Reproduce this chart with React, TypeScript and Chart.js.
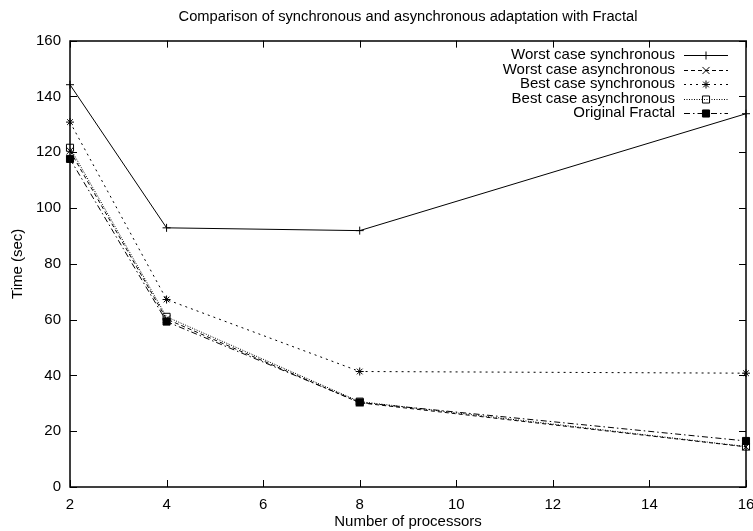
import React, { useEffect, useRef } from 'react';
import { Chart, registerables } from 'chart.js';

Chart.register(...registerables);

const processors = [2, 4, 8, 16];
const worstSync = [144.2, 92.9, 91.9, 133.8];
const worstAsync = [120.5, 60.2, 30.2, 14.4];
const bestSync = [130.8, 67.2, 41.4, 40.8];
const bestAsync = [121.6, 61.0, 30.6, 14.5];
const originalFractal = [117.6, 59.3, 30.3, 16.5];

const seriesLabels = [
  'Worst case synchronous',
  'Worst case asynchronous',
  'Best case synchronous',
  'Best case asynchronous',
  'Original Fractal',
];
const titleText = 'Comparison of synchronous and asynchronous adaptation with Fractal';
const xTitle = 'Number of processors';
const yTitle = 'Time (sec)';

const FONT = 'Liberation Sans, Arial, Helvetica, sans-serif';
const FS = 15;

type Style = { dash: number[]; point: string; radius: number; filled: boolean };
const styles: Style[] = [
  { dash: [], point: 'cross', radius: 4, filled: false },
  { dash: [4, 3], point: 'crossRot', radius: 5, filled: false },
  { dash: [2, 4], point: 'star', radius: 4, filled: false },
  { dash: [1, 1.5], point: 'rect', radius: 5, filled: false },
  { dash: [6, 3, 1.5, 3], point: 'rect', radius: 5, filled: true },
];

function drawMarker(ctx: CanvasRenderingContext2D, s: Style, x: number, y: number) {
  const r = s.radius;
  ctx.save();
  ctx.setLineDash([]);
  ctx.lineWidth = 1;
  ctx.strokeStyle = '#000';
  ctx.fillStyle = '#000';
  ctx.beginPath();
  if (s.point === 'cross') {
    ctx.moveTo(x - r, y); ctx.lineTo(x + r, y);
    ctx.moveTo(x, y - r); ctx.lineTo(x, y + r);
    ctx.stroke();
  } else if (s.point === 'crossRot') {
    const d = r * Math.SQRT1_2;
    ctx.moveTo(x - d, y - d); ctx.lineTo(x + d, y + d);
    ctx.moveTo(x - d, y + d); ctx.lineTo(x + d, y - d);
    ctx.stroke();
  } else if (s.point === 'star') {
    const d = r * Math.SQRT1_2;
    ctx.moveTo(x - r, y); ctx.lineTo(x + r, y);
    ctx.moveTo(x, y - r); ctx.lineTo(x, y + r);
    ctx.moveTo(x - d, y - d); ctx.lineTo(x + d, y + d);
    ctx.moveTo(x - d, y + d); ctx.lineTo(x + d, y - d);
    ctx.stroke();
  } else {
    const h = r * Math.SQRT1_2;
    ctx.rect(x - h, y - h, 2 * h, 2 * h);
    if (s.filled) ctx.fill();
    ctx.stroke();
  }
  ctx.restore();
}

const framePlugin = {
  id: 'gnuFrame',
  afterDraw(chart: any) {
    const { ctx, chartArea: a } = chart;
    const xs = chart.scales.x;
    const ys = chart.scales.y;
    const L = 7;
    ctx.save();
    ctx.strokeStyle = '#000';
    ctx.lineWidth = 1;
    ctx.setLineDash([]);
    ctx.beginPath();
    xs.ticks.forEach((t: any) => {
      const px = Math.round(xs.getPixelForValue(t.value)) + 0.5;
      ctx.moveTo(px, a.bottom); ctx.lineTo(px, a.bottom - L);
      ctx.moveTo(px, a.top); ctx.lineTo(px, a.top + L);
    });
    ys.ticks.forEach((t: any) => {
      const py = Math.round(ys.getPixelForValue(t.value)) + 0.5;
      ctx.moveTo(a.left, py); ctx.lineTo(a.left + L, py);
      ctx.moveTo(a.right, py); ctx.lineTo(a.right - L, py);
    });
    ctx.stroke();
    ctx.lineWidth = 1.5;
    ctx.strokeRect(Math.round(a.left), Math.round(a.top), Math.round(a.right - a.left), Math.round(a.bottom - a.top));

    // legend
    ctx.font = `${FS}px ${FONT}`;
    ctx.fillStyle = '#000';
    ctx.textAlign = 'right';
    ctx.textBaseline = 'middle';
    const sampleEnd = a.right - 18;
    const sampleStart = sampleEnd - 44;
    const textEnd = sampleStart - 9;
    chart.data.datasets.forEach((ds: any, i: number) => {
      const y = a.top + 14.5 + i * 14.5;
      const s = styles[i];
      ctx.fillText(ds.label, textEnd, y);
      ctx.save();
      ctx.lineWidth = 1;
      ctx.setLineDash(s.dash);
      ctx.beginPath();
      ctx.moveTo(sampleStart, Math.round(y) + 0.5);
      ctx.lineTo(sampleEnd, Math.round(y) + 0.5);
      ctx.stroke();
      ctx.restore();
      drawMarker(ctx, s, (sampleStart + sampleEnd) / 2, Math.round(y) + 0.5);
    });
    ctx.restore();
  },
};

const seriesValues = [worstSync, worstAsync, bestSync, bestAsync, originalFractal];

export default function App() {
  const ref = useRef<HTMLCanvasElement>(null);
  useEffect(() => {
    document.body.style.margin = '0';
    const canvas = ref.current!;
    const chart = new Chart(canvas, {
      type: 'line',
      data: {
        datasets: seriesValues.map((vals, i) => ({
          label: seriesLabels[i],
          data: processors.map((p, j) => ({ x: p, y: vals[j] })),
          borderColor: '#000',
          borderWidth: 1,
          borderDash: styles[i].dash,
          pointStyle: styles[i].point as any,
          pointRadius: styles[i].radius,
          pointBorderColor: '#000',
          pointBackgroundColor: styles[i].filled ? '#000' : 'rgba(0,0,0,0)',
          pointBorderWidth: 1,
          tension: 0,
          fill: false,
          clip: false as any,
        })),
      },
      options: {
        animation: false,
        responsive: false,
        devicePixelRatio: 1,
        layout: { padding: { left: 0, right: 7, top: 0, bottom: 0 } },
        plugins: {
          legend: { display: false },
          tooltip: { enabled: false },
          title: {
            display: true,
            fullSize: false,
            text: titleText,
            color: '#000',
            font: { family: FONT, size: 14.7, weight: 'normal', lineHeight: 1.2 },
            padding: { top: 8, bottom: 15 },
          },
        },
        scales: {
          x: {
            type: 'linear',
            min: 2,
            max: 16,
            grid: { display: false, drawTicks: false },
            border: { display: false },
            ticks: { stepSize: 2, color: '#000', font: { family: FONT, size: FS }, padding: 9, maxRotation: 0 },
            title: { display: true, text: xTitle, color: '#000', font: { family: FONT, size: FS }, padding: { top: 0, bottom: 0 } },
            afterFit: (s: any) => { s.height = 44; s.paddingRight = 0; s.paddingLeft = 0; },
          },
          y: {
            type: 'linear',
            min: 0,
            max: 160,
            grid: { display: false, drawTicks: false },
            border: { display: false },
            ticks: { stepSize: 20, color: '#000', font: { family: FONT, size: FS }, padding: 9 },
            title: { display: true, text: yTitle, color: '#000', font: { family: FONT, size: FS }, padding: { top: 9, bottom: 0 } },
            afterFit: (s: any) => { s.width = 70; },
          },
        },
      },
      plugins: [framePlugin],
    });
    return () => chart.destroy();
  }, []);
  return (
    <div style={{ width: 753, height: 531 }}>
      <canvas ref={ref} width={753} height={531} style={{ display: 'block' }} />
    </div>
  );
}
